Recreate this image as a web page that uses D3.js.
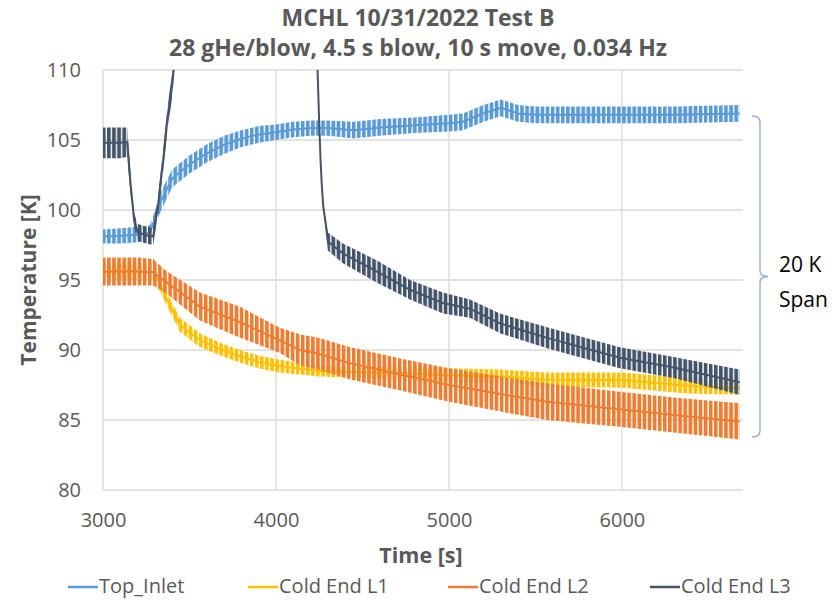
<!DOCTYPE html>
<html><head><meta charset="utf-8">
<script src="https://cdn.jsdelivr.net/npm/d3@7"></script>
<style>body{margin:0;background:#fff} text{font-family:"Open Sans",sans-serif}</style>
</head><body><svg id="c" width="836" height="600"></svg>
<script>
// ---- data (envelopes of the oscillating traces) ----
const titleLines = ["MCHL 10/31/2022 Test B", "28 gHe/blow, 4.5 s blow, 10 s move, 0.034 Hz"];
const xTicks = [3000, 4000, 5000, 6000];
const yTicks = [80, 85, 90, 95, 100, 105, 110];
const seriesNames = ["Top_Inlet", "Cold End L1", "Cold End L2", "Cold End L3"];
const seriesColors = ["#5B9BD5", "#FFC000", "#ED7D31", "#44546A"];
const spanLabel = ["20 K", "Span"];

const topT  = [3000,3100,3200,3270,3300,3330,3400,3500,3600,3700,3800,3900,4000,4100,4200,4300,4450,4600,4800,5000,5080,5200,5300,5400,5500,5700,6000,6300,6680];
const topLo = [97.6,97.6,97.7,97.8,98.9,99.8,101.6,102.6,103.4,104.0,104.5,104.8,105.0,105.2,105.3,105.3,105.1,105.3,105.5,105.6,105.7,106.3,106.7,106.3,106.2,106.2,106.2,106.2,106.3];
const topHi = [98.6,98.7,98.8,98.9,99.9,101.2,102.9,103.9,104.7,105.3,105.7,106.0,106.1,106.3,106.4,106.4,106.3,106.5,106.6,106.8,106.9,107.5,107.9,107.5,107.4,107.4,107.4,107.4,107.5];

const l1T  = [3000,3100,3200,3290,3330,3360,3445,3560,3680,3790,3900,4020,4250,4500,4720,5000,5300,5550,6000,6380,6680];
const l1Lo = [95.0,95.0,95.0,95.0,94.2,93.4,91.3,90.2,89.6,89.1,88.7,88.4,88.1,88.0,87.9,87.7,87.6,87.4,87.3,86.9,86.8];
const l1Hi = [96.2,96.2,96.2,96.1,95.2,94.3,92.3,91.2,90.5,90.0,89.6,89.3,88.9,88.8,88.8,88.7,88.6,88.4,88.4,88.0,87.7];

const l2T  = [3000,3100,3200,3290,3360,3560,3790,4020,4140,4240,4430,4720,5000,5300,5570,6000,6300,6680];
const l2Lo = [94.6,94.6,94.6,94.6,94.1,92.1,90.9,89.8,88.9,88.6,87.9,87.1,86.3,85.6,85.0,84.5,84.1,83.6];
const l2Hi = [96.6,96.6,96.6,96.5,95.7,94.1,93.1,91.6,91.1,90.9,90.2,89.4,88.7,88.1,87.6,87.0,86.6,86.2];

const l3T  = [3000,3050,3100,3140,3160,3180,3200,3250,3290,3320,3350,3375,3400,3420,3800,4236,4250,4258,4265,4273,4285,4300,4387,4584,4775,4965,5121,5295,5572,5988,6300,6680];
const l3Lo = [103.7,103.7,103.7,103.8,101.0,98.8,97.8,97.6,97.5,99.8,103.0,106.0,108.0,111.0,null,111.5,106.0,103.3,101.5,100.0,98.9,97.1,96.2,94.8,93.6,92.6,92.3,91.2,90.1,88.7,88.0,86.8];
const l3Hi = [105.9,105.9,105.9,105.9,102.5,99.8,99.0,98.8,98.7,101.2,104.6,107.6,109.8,113.0,null,112.0,106.4,103.7,102.0,100.6,99.6,98.4,97.6,96.4,95.0,94.1,93.6,92.6,91.6,90.2,89.5,88.6];

// ---- chart ----
const svg = d3.select("#c");
const m = {left:103, right:743, top:70, bottom:490};
const x = d3.scaleLinear().domain([3000, 6700]).range([m.left, m.right]);
const y = d3.scaleLinear().domain([80, 110]).range([m.bottom, m.top]);
const grey = "#595959", gridC = "#d9d9d9";

const series = [
  {t: topT, lo: topLo, hi: topHi},
  {t: l1T, lo: l1Lo, hi: l1Hi},
  {t: l2T, lo: l2Lo, hi: l2Hi},
  {t: l3T, lo: l3Lo, hi: l3Hi}
].map((s, i) => ({name: seriesNames[i], color: seriesColors[i],
   pts: s.t.map((t, j) => ({t, lo: s.lo[j], hi: s.hi[j]}))}));

const defs = svg.append("defs");
defs.append("clipPath").attr("id", "plotclip").append("rect")
  .attr("x", m.left).attr("y", m.top).attr("width", m.right - m.left).attr("height", m.bottom - m.top);
series.forEach((s, i) => {
  const p = defs.append("pattern").attr("id", "osc" + i).attr("patternUnits", "userSpaceOnUse")
    .attr("width", 5.1).attr("height", 20);
  p.append("rect").attr("x", 0).attr("y", 0).attr("width", 3.7).attr("height", 20).attr("fill", s.color);
});

// gridlines
svg.append("g").selectAll("line").data(yTicks.filter(v => v > 80)).join("line")
  .attr("x1", m.left).attr("x2", m.right).attr("y1", d => y(d)).attr("y2", d => y(d))
  .attr("stroke", gridC).attr("stroke-width", 1.3);
svg.append("g").selectAll("line").data(xTicks.filter(v => v > 3000)).join("line")
  .attr("x1", d => x(d)).attr("x2", d => x(d)).attr("y1", m.top).attr("y2", m.bottom)
  .attr("stroke", gridC).attr("stroke-width", 1.3);
svg.append("line").attr("x1", m.left).attr("x2", m.right).attr("y1", m.bottom).attr("y2", m.bottom).attr("stroke", gridC).attr("stroke-width", 1.3);
svg.append("line").attr("x1", m.left).attr("x2", m.left).attr("y1", m.top).attr("y2", m.bottom).attr("stroke", gridC).attr("stroke-width", 1.3);

// tick labels via d3 axes
const yAxis = svg.append("g").attr("transform", `translate(${m.left},0)`)
  .call(d3.axisLeft(y).tickValues(yTicks).tickSize(0).tickPadding(22));
const xAxis = svg.append("g").attr("transform", `translate(0,${m.bottom})`)
  .call(d3.axisBottom(x).tickValues(xTicks).tickFormat(d3.format("d")).tickSize(0).tickPadding(23));
[yAxis, xAxis].forEach(a => {
  a.select(".domain").remove();
  a.selectAll("text").attr("fill", grey).style("font-size", "20px").style("font-family", '"Open Sans",sans-serif');
});

// series: oscillation band (striped) + centre trace
const area = d3.area().defined(d => d.lo != null)
  .x(d => x(d.t)).y0(d => y(d.lo)).y1(d => y(d.hi));
const mid = d3.line().defined(d => d.lo != null)
  .x(d => x(d.t)).y(d => y((d.lo + d.hi) / 2));
const plot = svg.append("g").attr("clip-path", "url(#plotclip)");
series.forEach((s, i) => {
  plot.append("path").attr("d", area(s.pts)).attr("fill", `url(#osc${i})`);
  plot.append("path").attr("d", mid(s.pts)).attr("fill", "none")
    .attr("stroke", s.color).attr("stroke-width", 2).attr("stroke-linejoin", "round");
});

// titles
svg.append("g").selectAll("text").data(titleLines).join("text")
  .attr("x", 418).attr("y", (d, i) => 26 + i * 30).attr("text-anchor", "middle")
  .attr("fill", grey).style("font-size", "23px").style("font-weight", "bold").text(d => d);
svg.append("text").attr("transform", "translate(36,280) rotate(-90)").attr("text-anchor", "middle")
  .attr("fill", grey).style("font-size", "21px").style("font-weight", "bold").text("Temperature [K]");
svg.append("text").attr("x", 421).attr("y", 563).attr("text-anchor", "middle")
  .attr("fill", grey).style("font-size", "21.5px").style("font-weight", "bold").text("Time [s]");

// legend
const legX = [68, 248, 448, 650];
const leg = svg.append("g").selectAll("g").data(series).join("g")
  .attr("transform", (d, i) => `translate(${legX[i]},587)`);
leg.append("line").attr("x1", 0).attr("x2", 30).attr("y1", 0).attr("y2", 0)
  .attr("stroke", d => d.color).attr("stroke-width", 2.5);
leg.append("text").attr("x", 31).attr("y", 6).attr("fill", grey).style("font-size", "20px").text(d => d.name);

// span brace
const bx = 756, yTopB = 116, yBotB = 437, yMid = (yTopB + yBotB) / 2;
const brace = `M${bx-4},${yTopB} Q${bx+4},${yTopB} ${bx+4},${yTopB+6} L${bx+4},${yMid-6} Q${bx+4},${yMid} ${bx+12},${yMid} Q${bx+4},${yMid} ${bx+4},${yMid+6} L${bx+4},${yBotB-6} Q${bx+4},${yBotB} ${bx-4},${yBotB}`;
svg.append("path").attr("d", brace).attr("fill", "none").attr("stroke", "#8FAADC").attr("stroke-width", 1.3);
svg.append("g").selectAll("text").data(spanLabel).join("text")
  .attr("x", 779).attr("y", (d, i) => 272 + i * 35).attr("fill", "#000").style("font-size", "21px").text(d => d);
</script>
</body></html>
